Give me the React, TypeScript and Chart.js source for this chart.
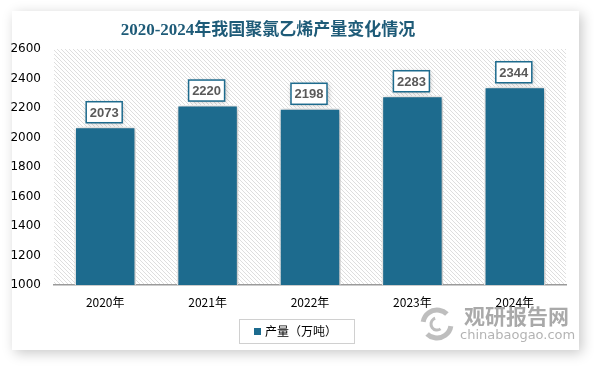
import React, { useEffect, useRef } from "react";
import { Chart, registerables } from "chart.js";

Chart.register(...registerables);

const categories = ["2020年", "2021年", "2022年", "2023年", "2024年"];
const production = [2073, 2220, 2198, 2283, 2344];
const seriesLabel = "产量（万吨）";
const titleText = "2020-2024年我国聚氯乙烯产量变化情况";
const yMin = 1000;
const yMax = 2600;
const yStep = 200;

const BAR_COLOR = "#1d6b8e";
const TITLE_COLOR = "#1e5b78";

function makeHatch(ctx: CanvasRenderingContext2D) {
  const c = document.createElement("canvas");
  c.width = 4;
  c.height = 4;
  const g = c.getContext("2d")!;
  g.fillStyle = "#ffffff";
  g.fillRect(0, 0, 4, 4);
  g.fillStyle = "#dedede";
  for (let i = 0; i < 4; i++) g.fillRect(i, i, 1, 1);
  return ctx.createPattern(c, "repeat");
}

const decorPlugin = {
  id: "decor",
  beforeDraw(chart: any) {
    const { ctx, chartArea } = chart;
    ctx.save();
    ctx.fillStyle = "#ffffff";
    ctx.fillRect(0, 0, chart.width, chart.height);
    ctx.shadowColor = "rgba(0,0,0,0.22)";
    ctx.shadowBlur = 12;
    ctx.shadowOffsetX = 3;
    ctx.shadowOffsetY = 3;
    ctx.fillStyle = "#ffffff";
    ctx.fillRect(12, 11, 567, 339);
    ctx.restore();
    ctx.save();
    const pat = makeHatch(ctx);
    if (pat) ctx.fillStyle = pat;
    ctx.fillRect(chartArea.left, chartArea.top, chartArea.right - chartArea.left, chartArea.bottom - chartArea.top);
    ctx.restore();
    ctx.save();
    ctx.font = 'bold 17px "Liberation Serif", "Noto Sans CJK SC", serif';
    ctx.fillStyle = TITLE_COLOR;
    ctx.textAlign = "center";
    ctx.textBaseline = "middle";
    ctx.fillText(titleText, 268, 31);
    ctx.restore();
  },
  beforeDatasetsDraw(chart: any) {
    const ctx = chart.ctx;
    ctx.save();
    ctx.shadowColor = "rgba(0,0,0,0.35)";
    ctx.shadowBlur = 6;
    ctx.shadowOffsetX = 1;
    ctx.shadowOffsetY = 1;
  },
  afterDatasetsDraw(chart: any) {
    const ctx = chart.ctx;
    ctx.restore();
    const meta = chart.getDatasetMeta(0);
    const data = chart.data.datasets[0].data as number[];
    ctx.save();
    ctx.font = 'bold 13px "Liberation Sans", "DejaVu Sans", sans-serif';
    meta.data.forEach((bar: any, i: number) => {
      const text = String(data[i]);
      const w = 36;
      const h = 21;
      const x = bar.x - w / 2 - 1;
      const y = bar.y - 4 - h;
      ctx.save();
      ctx.shadowColor = "rgba(0,0,0,0.3)";
      ctx.shadowBlur = 5;
      ctx.shadowOffsetX = 1;
      ctx.shadowOffsetY = 1;
      ctx.fillStyle = "#ffffff";
      ctx.fillRect(x, y, w, h);
      ctx.restore();
      ctx.strokeStyle = BAR_COLOR;
      ctx.lineWidth = 1.5;
      ctx.strokeRect(x, y, w, h);
      ctx.fillStyle = "#595959";
      ctx.textAlign = "center";
      ctx.textBaseline = "middle";
      ctx.fillText(text, x + w / 2, y + h / 2 + 1);
    });
    ctx.restore();
  },
  afterDraw(chart: any) {
    const ctx = chart.ctx;
    ctx.save();
    ctx.strokeStyle = "#d0d0d0";
    ctx.lineWidth = 1;
    ctx.strokeRect(239.5, 319.5, 115, 24);
    ctx.fillStyle = chart.data.datasets[0].backgroundColor;
    ctx.fillRect(254, 328, 7, 7);
    ctx.fillStyle = "#000000";
    ctx.font = '12px "Noto Sans CJK SC", sans-serif';
    ctx.textBaseline = "middle";
    ctx.textAlign = "left";
    ctx.fillText(chart.data.datasets[0].label, 265, 331.5);
    ctx.restore();
    ctx.save();
    ctx.globalAlpha = 0.75;
    ctx.strokeStyle = "#a8a8a8";
    ctx.lineWidth = 5;
    ctx.beginPath();
    ctx.arc(437, 324, 14, Math.PI * 1.05, Math.PI * 1.75);
    ctx.stroke();
    ctx.beginPath();
    ctx.arc(437, 324, 14, Math.PI * 0.05, Math.PI * 0.75);
    ctx.stroke();
    ctx.lineWidth = 3;
    ctx.beginPath();
    ctx.arc(437, 324, 6, Math.PI * 0.3, Math.PI * 1.4);
    ctx.stroke();
    ctx.fillStyle = "#8c8c8c";
    ctx.font = 'bold 21px "Noto Sans CJK SC", sans-serif';
    ctx.textBaseline = "middle";
    ctx.textAlign = "left";
    ctx.fillText("观研报告网", 464, 316);
    ctx.fillStyle = "#9a9a9a";
    ctx.font = '13px "DejaVu Sans", sans-serif';
    ctx.fillText("chinabaogao.com", 460, 336);
    ctx.restore();
  },
};

export default function App() {
  const ref = useRef<HTMLCanvasElement | null>(null);
  useEffect(() => {
    document.body.style.margin = "0";
    const canvas = ref.current!;
    const chart = new Chart(canvas, {
      type: "bar",
      data: {
        labels: categories,
        datasets: [
          {
            label: seriesLabel,
            data: production,
            backgroundColor: BAR_COLOR,
            borderColor: "#ffffff",
            borderWidth: 1.5,
            categoryPercentage: 0.6,
            barPercentage: 1,
          },
        ],
      },
      options: {
        responsive: false,
        animation: false,
        devicePixelRatio: 1,
        layout: { padding: { left: 0, right: 28, top: 49, bottom: 51 } },
        plugins: {
          legend: { display: false },
          title: { display: false },
          tooltip: { enabled: false },
        },
        scales: {
          x: {
            grid: { display: false, drawTicks: false },
            border: { display: true, color: "#9a9a9a", width: 1.5 },
            ticks: {
              color: "#000000",
              padding: 10,
              font: { family: '"Noto Sans CJK SC", sans-serif', size: 12 },
            },
            afterFit(scale: any) {
              scale.height = 30;
            },
          },
          y: {
            min: yMin,
            max: yMax,
            grid: { display: false, drawTicks: false },
            border: { display: false },
            ticks: {
              stepSize: yStep,
              color: "#000000",
              padding: 13,
              font: { family: '"DejaVu Sans", sans-serif', size: 12 },
              callback: (v: any) => String(v),
            },
            afterFit(scale: any) {
              scale.width = 54;
            },
          },
        },
      },
      plugins: [decorPlugin],
    });
    return () => chart.destroy();
  }, []);
  return <canvas ref={ref} width={594} height={366} style={{ display: "block" }} />;
}
